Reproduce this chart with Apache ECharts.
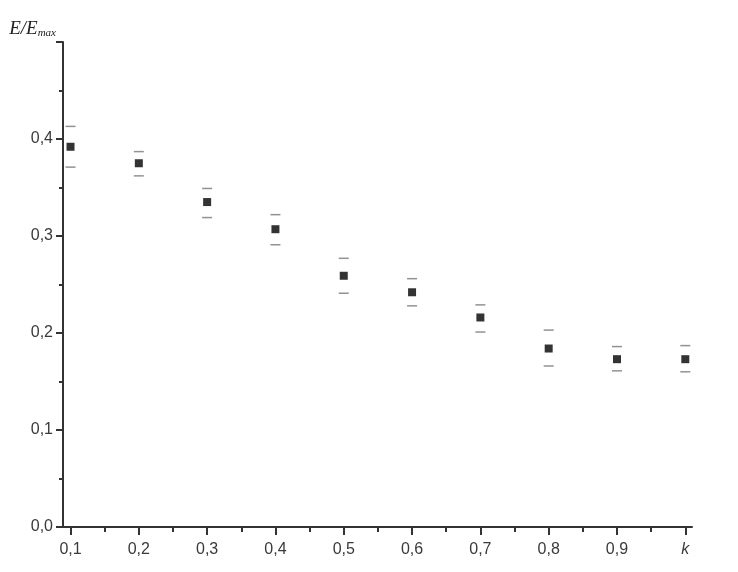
<!DOCTYPE html>
<html lang="en">
<head>
    <meta charset="UTF-8">
    <title>E/Emax vs k</title>
    <script src="https://cdn.jsdelivr.net/npm/echarts@6/dist/echarts.min.js"></script>
</head>
<style>
    body{
        width: 100%;
        height: 100%;
        margin: 0;
        padding: 0;
        background: #fff;
    }
</style>
<body>
<div id="main" style="width: 738px;height:572px;"></div>
<script>
    // data
    var kValues = [0.1, 0.2, 0.3, 0.4, 0.5, 0.6, 0.7, 0.8, 0.9, 1.0];
    var ratio   = [0.392, 0.375, 0.335, 0.307, 0.259, 0.242, 0.216, 0.184, 0.173, 0.173];
    var upper   = [0.413, 0.387, 0.349, 0.322, 0.277, 0.256, 0.229, 0.203, 0.186, 0.187];
    var lower   = [0.371, 0.362, 0.319, 0.291, 0.241, 0.228, 0.201, 0.166, 0.161, 0.160];
    var xMajorTicks = [0.1, 0.2, 0.3, 0.4, 0.5, 0.6, 0.7, 0.8, 0.9, 1.0];
    var xMinorTicks = [0.15, 0.25, 0.35, 0.45, 0.55, 0.65, 0.75, 0.85, 0.95];

    function pairs(xs, ys) {
        var out = [];
        for (var i = 0; i < xs.length; i++) {
            out.push([xs[i], ys[i]]);
        }
        return out;
    }

    function comma(v) {
        return v.toFixed(1).replace('.', ',');
    }

    var axisColor = '#333';
    var labelStyle = {
        color: '#3a3a3a',
        fontFamily: 'Liberation Sans',
        fontSize: 16
    };

    var chart = echarts.init(document.getElementById('main'));
    var option = {
        backgroundColor: '#fff',
        animation: false,
        grid: {left: 63, right: 46, top: 42, bottom: 45},
        xAxis: [{
            type: 'value',
            min: 0.089,
            max: 1.0098,
            splitLine: {show: false},
            axisLine: {lineStyle: {color: axisColor, width: 2}},
            axisTick: {
                customValues: xMajorTicks,
                length: 8,
                lineStyle: {color: axisColor, width: 2}
            },
            axisLabel: {
                customValues: xMajorTicks,
                margin: 15,
                formatter: function (v) {
                    if (Math.abs(v - 1) < 1e-6) return '{k|k}';
                    return comma(v);
                },
                rich: {
                    k: {fontStyle: 'italic', fontFamily: 'Liberation Sans', fontSize: 16, color: '#3a3a3a'}
                },
                color: labelStyle.color,
                fontFamily: labelStyle.fontFamily,
                fontSize: labelStyle.fontSize
            }
        }, {
            type: 'value',
            position: 'bottom',
            min: 0.089,
            max: 1.0098,
            splitLine: {show: false},
            axisLine: {show: false},
            axisLabel: {show: false},
            axisTick: {
                customValues: xMinorTicks,
                length: 5,
                lineStyle: {color: axisColor, width: 2}
            }
        }],
        yAxis: {
            type: 'value',
            min: 0,
            max: 0.5,
            interval: 0.1,
            splitLine: {show: false},
            axisLine: {show: true, lineStyle: {color: axisColor, width: 2}},
            axisTick: {show: true, length: 7, lineStyle: {color: axisColor, width: 2}},
            minorTick: {show: true, splitNumber: 2, length: 4, lineStyle: {color: axisColor, width: 2}},
            axisLabel: {
                margin: 10,
                formatter: function (v) {
                    if (v > 0.45) return '';
                    return comma(v);
                },
                color: labelStyle.color,
                fontFamily: labelStyle.fontFamily,
                fontSize: labelStyle.fontSize
            },
            name: '{e|E/E}{s|max}',
            nameLocation: 'end',
            nameGap: 3,
            nameTextStyle: {
                align: 'right',
                padding: [0, 7, 0, 0],
                rich: {
                    e: {fontFamily: 'Liberation Serif', fontStyle: 'italic', fontSize: 19, color: '#222'},
                    s: {fontFamily: 'Liberation Serif', fontStyle: 'italic', fontSize: 11, color: '#222', padding: [9, 0, 0, 0]}
                }
            }
        },
        series: [{
            name: 'upper',
            type: 'scatter',
            symbol: 'rect',
            symbolSize: [10, 1.5],
            itemStyle: {color: '#777'},
            data: pairs(kValues, upper),
            z: 2
        }, {
            name: 'lower',
            type: 'scatter',
            symbol: 'rect',
            symbolSize: [10, 1.5],
            itemStyle: {color: '#777'},
            data: pairs(kValues, lower),
            z: 2
        }, {
            name: 'E/Emax',
            type: 'scatter',
            symbol: 'rect',
            symbolSize: 8,
            itemStyle: {color: '#000'},
            data: pairs(kValues, ratio),
            z: 3
        }]
    };
    chart.setOption(option);
</script>
</body>
</html>
